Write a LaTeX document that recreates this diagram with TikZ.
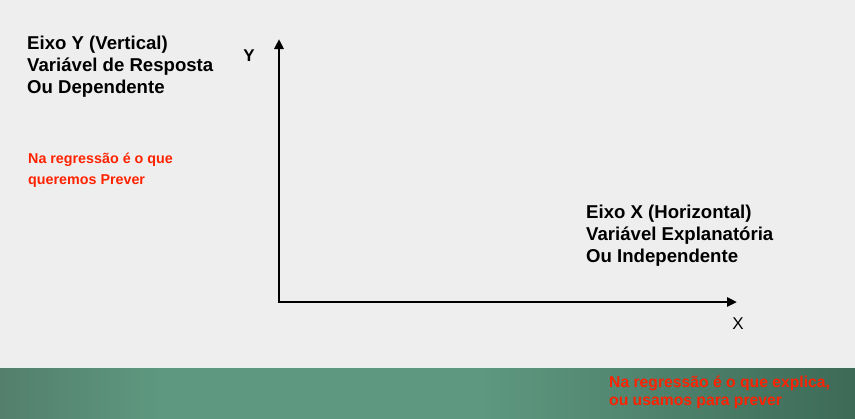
\documentclass[tikz,border=0pt]{standalone}
\usepackage{fontspec}
\setmainfont{Liberation Sans}
\usetikzlibrary{arrows.meta}
\definecolor{bg}{HTML}{EEEEEE}
\definecolor{bandmid}{HTML}{5E9880}
\definecolor{bandleft}{HTML}{537F6C}
\definecolor{bandright}{HTML}{3D6A57}
\definecolor{redtxt}{HTML}{FF2200}
\begin{document}
\begin{tikzpicture}[x=1bp,y=-1bp,
  axis/.style={line width=2.8bp,-{Triangle[length=10bp,width=9bp]}},
  blk/.style={anchor=west,align=left,font=\fontsize{18.6bp}{22bp}\selectfont\bfseries,inner sep=0pt},
  note/.style={anchor=west,align=left,font=\fontsize{14.3bp}{21bp}\selectfont\bfseries,text=redtxt,inner sep=0pt},
  lab/.style={font=\fontsize{17bp}{20bp}\selectfont,inner sep=0pt}]
\useasboundingbox (0,0) rectangle (855,418);
\fill[bg] (-2,-2) rectangle (857,420);
\fill[bandmid] (-2,367) rectangle (857,421);
\shade[left color=bandleft,right color=bandmid] (-2,367) rectangle (161,421);
\shade[left color=bandmid,right color=bandright] (479,367) rectangle (857,421);
\draw[color=white!85!bandmid,line width=1bp] (-2,367) -- (857,367);
\coordinate (O) at (279,302);
\coordinate (Ytop) at (279,39);
\coordinate (Xend) at (737,302);
\draw[axis] (O) -- (Ytop);
\draw[axis] ([xshift=-1.4bp]O) -- (Xend);
\node[lab,font=\fontsize{17bp}{20bp}\selectfont\bfseries] (ylab) at (249,56) {Y};
\node[lab] (xlab) at (738,324) {X};
\node[blk] (ytxt) at (27,67) {Eixo Y (Vertical)\\Variável de Resposta\\Ou Dependente};
\node[note] (ynote) at (28,170) {Na regressão é o que\\queremos Prever};
\node[blk] (xtxt) at (586,236) {Eixo X (Horizontal)\\Variável Explanatória\\Ou Independente};
\node[note,font=\fontsize{15.7bp}{18bp}\selectfont\bfseries] (xnote) at (609,392) {Na regressão é o que explica,\\ou usamos para prever};
\end{tikzpicture}
\end{document}
